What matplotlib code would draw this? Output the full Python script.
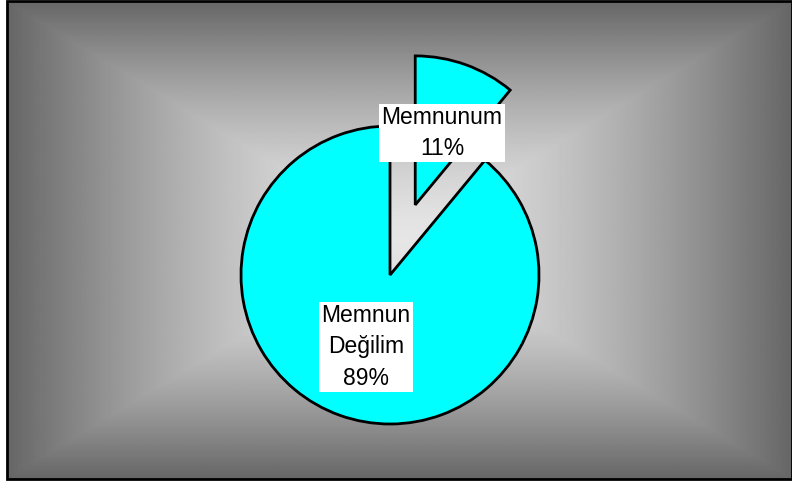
import numpy as np
import matplotlib
matplotlib.use("Agg")
import matplotlib.pyplot as plt
from matplotlib.patches import Rectangle

labels = ["Memnunum", "Memnun\nDeğilim"]
shares = [11, 89]
pull = [0.5, 0.0]   # explode as a fraction of the radius

W, H = 792, 482
R = 149
fig = plt.figure(figsize=(W / 100, H / 100), dpi=100)
fig.patch.set_facecolor("white")
ax = fig.add_axes([0, 0, 1, 1])

# rectangular "from centre" gradient panel
x0, x1, y0, y1 = 7, 792, 3, 481   # y measured from bottom
gx, gy = np.meshgrid(np.linspace(-1, 1, 600), np.linspace(-1, 1, 400))
d = np.maximum(np.abs(gx), np.abs(gy))
g = 0.4 + 0.5 * (1 - d ** 1.5)
ax.imshow(g, cmap="gray", vmin=0, vmax=1, extent=(x0, x1, y0, y1),
          origin="lower", aspect="auto", interpolation="bilinear", zorder=0)
ax.add_patch(Rectangle((x0, y0), x1 - x0, y1 - y0, fill=False, ec="black", lw=2, zorder=1))

wedges, _ = ax.pie(shares, explode=[p * R for p in pull], startangle=90, counterclock=False,
                   colors=["#00ffff", "#00ffff"], center=(390, 207), radius=R,
                   wedgeprops=dict(edgecolor="black", linewidth=2, zorder=2),
                   frame=True)

txt = [f"{labels[0]}\n{shares[0]}%", f"{labels[1]}\n{shares[1]}%"]
pos = [(442, 349), (366, 135)]
for t, (px, py) in zip(txt, pos):
    ax.text(px, py, t, ha="center", va="center", fontsize=16.5, family="Liberation Sans",
            linespacing=1.45, zorder=3,
            bbox=dict(boxstyle="square,pad=0.1", fc="white", ec="none"))

ax.set_xlim(0, W)
ax.set_ylim(0, H)
ax.set_aspect("auto")
ax.axis("off")
fig.savefig("out.png", dpi=100, facecolor="white")
